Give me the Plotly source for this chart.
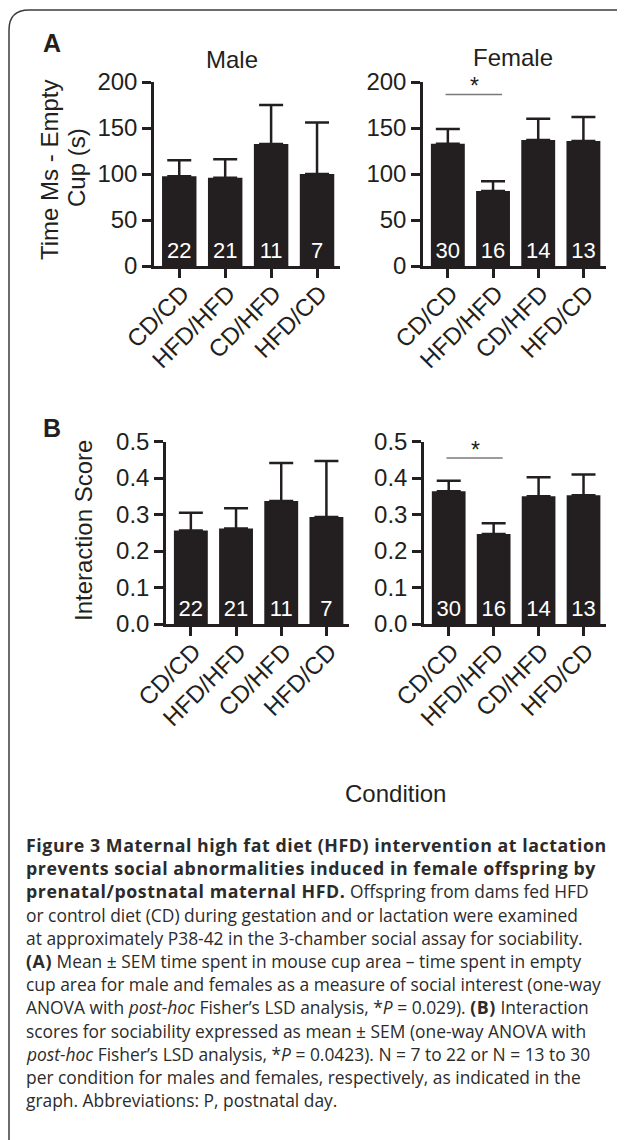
import plotly.graph_objects as go

# The page body has an 8px default margin, so the figure is drawn 8px in
# from the top-left corner; size it so it ends at the window edge.
OFF = 8
W, H = 625 - OFF, 1140 - OFF

# ---------------- data ----------------
conditions = ["CD/CD", "HFD/HFD", "CD/HFD", "HFD/CD"]
male_time = [97.5, 96, 132.5, 100]
male_time_sem = [17.5, 20, 42.5, 56]
female_time = [133, 81.5, 137, 136]
female_time_sem = [16, 10.5, 23, 26]
male_score = [0.256, 0.262, 0.337, 0.293]
male_score_sem = [0.049, 0.055, 0.104, 0.154]
female_score = [0.364, 0.247, 0.350, 0.353]
female_score_sem = [0.029, 0.029, 0.052, 0.057]
male_n = [22, 21, 11, 7]
female_n = [30, 16, 14, 13]
time_ticks = [0, 50, 100, 150, 200]
score_ticks = [0.0, 0.1, 0.2, 0.3, 0.4, 0.5]
sig_time_y = 186.5
sig_score_y = 0.455

B0 = '<span style="font-size:17.8px;letter-spacing:0.55px"><b>'
B1 = '</b></span>'
caption_lines = [
    f"{B0}Figure 3 Maternal high fat diet (HFD) intervention at lactation{B1}",
    f"{B0}prevents social abnormalities induced in female offspring by{B1}",
    f"{B0}prenatal/postnatal maternal HFD.{B1} Offspring from dams fed HFD",
    "or control diet (CD) during gestation and or lactation were examined",
    "at approximately P38-42 in the 3-chamber social assay for sociability.",
    f"{B0}(A){B1} Mean ± SEM time spent in mouse cup area – time spent in empty",
    "cup area for male and females as a measure of social interest (one-way",
    f"ANOVA with <i>post-hoc</i> Fisher’s LSD analysis, *<i>P</i> = 0.029). {B0}(B){B1} Interaction",
    "scores for sociability expressed as mean ± SEM (one-way ANOVA with",
    "<i>post-hoc</i> Fisher’s LSD analysis, *<i>P</i> = 0.0423). N = 7 to 22 or N = 13 to 30",
    "per condition for males and females, respectively, as indicated in the",
    "graph. Abbreviations: P, postnatal day.",
]

# ---------------- style ----------------
INK = "#231f20"
FONT = "Liberation Sans, Arial, Helvetica, sans-serif"
CAP_FONT = "Open Sans, Noto Sans, sans-serif"


def fx(p):
    return (p - OFF) / W


def fy(p):
    return 1 - (p - OFF) / H


fig = go.Figure()

panels = [
    ("x", "y", male_time, male_time_sem, male_n),
    ("x2", "y2", female_time, female_time_sem, female_n),
    ("x3", "y3", male_score, male_score_sem, male_n),
    ("x4", "y4", female_score, female_score_sem, female_n),
]
for xa, ya, vals, sem, n in panels:
    fig.add_trace(go.Bar(
        x=conditions, y=vals, xaxis=xa, yaxis=ya,
        marker=dict(color=INK, line=dict(width=0)),
        error_y=dict(type="data", array=sem, arrayminus=[0] * len(sem),
                     symmetric=False, color=INK, thickness=2.5, width=12),
        text=[str(v) for v in n], textposition="inside",
        insidetextanchor="start", textangle=0, constraintext="none",
        insidetextfont=dict(color="white", size=22, family=FONT),
        cliponaxis=False, showlegend=False, hoverinfo="skip",
    ))

x_common = dict(
    type="category", range=[-0.55, 3.5], showline=True, linewidth=3,
    linecolor=INK, ticks="outside", ticklen=9, tickwidth=2.5, tickcolor=INK,
    tickangle=-45, tickfont=dict(family=FONT, size=24, color=INK),
    ticklabelstandoff=-8, ticklabelshift=3,
    showgrid=False, zeroline=False, automargin=False, fixedrange=True,
)
y_common = dict(
    showline=True, linewidth=2.5, linecolor=INK, ticks="outside", ticklen=9,
    tickwidth=2.5, tickcolor=INK, tickfont=dict(family=FONT, size=24, color=INK),
    showgrid=False, zeroline=False, automargin=False, fixedrange=True,
)

yA = [fy(266), fy(82)]
yB = [fy(624), fy(441.6)]

fig.update_layout(
    width=W, height=H, margin=dict(l=0, r=0, t=0, b=0),
    paper_bgcolor="white", plot_bgcolor="white", bargap=0.25,
    font=dict(family=FONT, color=INK),
    xaxis=dict(x_common, domain=[fx(154), fx(340)], anchor="y"),
    xaxis2=dict(x_common, domain=[fx(423), fx(606)], anchor="y2"),
    xaxis3=dict(x_common, domain=[fx(166), fx(349)], anchor="y3"),
    xaxis4=dict(x_common, domain=[fx(424), fx(606)], anchor="y4"),
    yaxis=dict(y_common, domain=yA, anchor="x", range=[0, 200],
               tickvals=time_ticks),
    yaxis2=dict(y_common, domain=yA, anchor="x2", range=[0, 200],
                tickvals=time_ticks),
    yaxis3=dict(y_common, domain=yB, anchor="x3", range=[0, 0.5],
                tickvals=score_ticks, tickformat=".1f"),
    yaxis4=dict(y_common, domain=yB, anchor="x4", range=[0, 0.5],
                tickvals=score_ticks, tickformat=".1f"),
)

# significance lines and stars
for xa, ya, yv in [("x2", "y2", sig_time_y), ("x4", "y4", sig_score_y)]:
    fig.add_shape(type="line", xref=xa, yref=ya, x0=-0.05, x1=1.2, y0=yv, y1=yv,
                  line=dict(color="#7a7a7a", width=1.5))
    fig.add_annotation(xref=xa, yref=ya, x=0.6, y=yv, text="*", showarrow=False,
                       yanchor="bottom", yshift=-7,
                       font=dict(family=FONT, size=23, color=INK))

# frame with rounded top-left corner
fig.add_shape(type="path", xref="paper", yref="paper",
              path=f"M {fx(9)},{fy(1160)} L {fx(9)},{fy(30)} "
                   f"Q {fx(9)},{fy(10)} {fx(29)},{fy(10)} L {fx(660)},{fy(10)}",
              line=dict(color="#3c3c3c", width=1.5))


def ann(text, x, y, size, angle=0, bold=False, family=FONT, xanchor="center",
        color=INK):
    fig.add_annotation(xref="paper", yref="paper", x=fx(x), y=fy(y),
                       text=f"<b>{text}</b>" if bold else text,
                       showarrow=False, textangle=angle, xanchor=xanchor,
                       yanchor="middle",
                       font=dict(family=family, size=size, color=color))


ann("A", 52, 43, 25, bold=True)
ann("B", 52, 428, 25, bold=True)
ann("Male", 232, 60, 24)
ann("Female", 513, 58, 24)
ann("Time Ms - Empty", 49, 170, 24, angle=-90)
ann("Cup (s)", 76, 168, 24, angle=-90)
ann("Interaction Score", 83, 531, 24, angle=-90)
ann("Condition", 395, 793, 24)

for i, line in enumerate(caption_lines):
    ann(line, 24, 845 + 23.2 * i, 17.4, family=CAP_FONT, xanchor="left",
        color="#2b2b2b")

fig.write_html("out.html")
